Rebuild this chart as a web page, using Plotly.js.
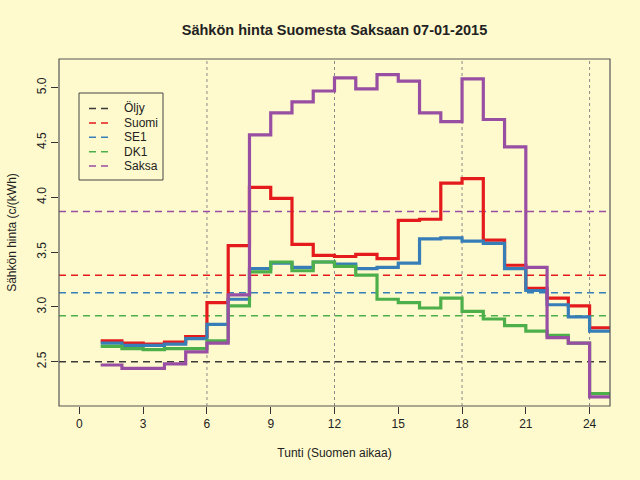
<!DOCTYPE html>
<html>
<head>
<meta charset="utf-8">
<script src="https://cdn.plot.ly/plotly-3.0.1.min.js"></script>
<style>
  body { margin: 0; background: #fffacd; }
  #chart { width: 640px; height: 480px; }
</style>
</head>
<body>
<div id="chart"></div>
<script>
// tunnit 1..24
const hours = [1, 2, 3, 4, 5, 6, 7, 8, 9, 10, 11, 12, 13, 14, 15, 16, 17, 18, 19, 20, 21, 22, 23, 24];

// tuntihinnat c/kWh
const suomi = [2.69, 2.67, 2.66, 2.68, 2.73, 3.04, 3.56, 4.09, 3.99, 3.57, 3.47, 3.46,
               3.48, 3.44, 3.79, 3.80, 4.13, 4.17, 3.61, 3.38, 3.17, 3.08, 3.01, 2.81];
const se1 = [2.67, 2.65, 2.65, 2.66, 2.71, 2.84, 3.07, 3.35, 3.40, 3.36, 3.41, 3.39,
             3.35, 3.36, 3.40, 3.62, 3.63, 3.60, 3.58, 3.35, 3.15, 3.02, 2.91, 2.78];
const dk1 = [2.64, 2.62, 2.61, 2.62, 2.62, 2.69, 3.01, 3.32, 3.41, 3.33, 3.41, 3.37,
             3.29, 3.07, 3.04, 2.99, 3.08, 2.96, 2.89, 2.83, 2.78, 2.74, 2.67, 2.21];
const saksa = [2.47, 2.44, 2.44, 2.48, 2.59, 2.67, 3.11, 4.57, 4.77, 4.87, 4.97, 5.09,
               4.99, 5.12, 5.06, 4.77, 4.69, 5.08, 4.71, 4.46, 3.36, 2.72, 2.67, 2.18];

// keskiarvot (katkoviivat)
const avgNames = ['Öljy', 'Suomi', 'SE1', 'DK1', 'Saksa'];
const avgValues = [2.50, 3.29, 3.13, 2.92, 3.87];
const colors = ['#3a3a3a', '#e41a1c', '#377eb8', '#4daf4a', '#984ea3'];

const gridHours = [6, 12, 18, 24];
const xTicks = [0, 3, 6, 9, 12, 15, 18, 21, 24];
const yTicks = [2.5, 3.0, 3.5, 4.0, 4.5, 5.0];
const xRange = [-0.96, 24.96];
const yRange = [2.096, 5.262];

const bg = '#fffacd';
const font = 'Liberation Sans, Arial, sans-serif';
const dashStyle = '7px,5px';

// piirtoalue pikseleinä (marginaalit)
const M = { l: 59, r: 30, t: 59, b: 74 };
const plotW = 640 - M.l - M.r, plotH = 480 - M.t - M.b;
const px = v => (v - M.l) / plotW;
const py = v => (480 - M.b - v) / plotH;

// porrasviiva jatkuu viimeisen tunnin loppuun
function step(vals, color) {
  return {
    x: hours.concat([hours[hours.length - 1] + 1]),
    y: vals.concat([vals[vals.length - 1]]),
    type: 'scatter',
    mode: 'lines',
    line: { shape: 'hv', color: color, width: 3.2 },
    showlegend: false,
    hoverinfo: 'skip'
  };
}

const avgTraces = avgNames.map((name, i) => ({
  x: xRange,
  y: [avgValues[i], avgValues[i]],
  type: 'scatter',
  mode: 'lines',
  name: name,
  line: { color: colors[i], width: 1.5, dash: dashStyle },
  showlegend: false,
  hoverinfo: 'skip'
}));

const data = avgTraces.concat([
  step(suomi, colors[1]),
  step(se1, colors[2]),
  step(dk1, colors[3]),
  step(saksa, colors[4])
]);

const shapes = gridHours.map(h => ({
  type: 'line', xref: 'x', yref: 'paper', x0: h, x1: h, y0: 0, y1: 1,
  line: { color: '#8a8a8a', width: 1, dash: 'dot' }, layer: 'below'
}));
shapes.push({
  type: 'rect', xref: 'paper', yref: 'paper', x0: 0, x1: 1, y0: 0, y1: 1,
  line: { color: '#555555', width: 1.2 }
});

// selite käsin, R:n tyyliin tiivis
const legBox = { x0: 79, x1: 163, y0: 93, y1: 180 };
const rowY0 = 108.5, rowStep = 14.4;
shapes.push({
  type: 'rect', xref: 'paper', yref: 'paper',
  x0: px(legBox.x0), x1: px(legBox.x1), y0: py(legBox.y0), y1: py(legBox.y1),
  line: { color: '#444444', width: 1 }
});
const annotations = [];
avgNames.forEach((name, i) => {
  const yy = py(rowY0 + i * rowStep);
  shapes.push({
    type: 'line', xref: 'paper', yref: 'paper',
    x0: px(89), x1: px(110), y0: yy, y1: yy,
    line: { color: colors[i], width: 1.5, dash: dashStyle }
  });
  annotations.push({
    xref: 'paper', yref: 'paper', x: px(122), y: yy,
    xanchor: 'left', yanchor: 'middle', showarrow: false,
    text: name, font: { size: 12, color: '#222222' }
  });
});

const layout = {
  width: 640,
  height: 480,
  paper_bgcolor: bg,
  plot_bgcolor: bg,
  font: { family: font, size: 12, color: '#222222' },
  margin: M,
  title: {
    text: '<b>Sähkön hinta Suomesta Saksaan 07-01-2015</b>',
    font: { family: font, size: 14.5, color: '#222222' },
    x: 0.5, xref: 'paper', y: 0.9375, yref: 'container', yanchor: 'middle'
  },
  xaxis: {
    range: xRange,
    tickvals: xTicks,
    ticks: 'outside', ticklen: 7, tickcolor: '#333333',
    showgrid: false, zeroline: false, showline: false,
    tickfont: { size: 12 },
    title: { text: 'Tunti (Suomen aikaa)', font: { size: 12 }, standoff: 18 }
  },
  yaxis: {
    range: yRange,
    tickvals: yTicks,
    ticktext: yTicks.map(v => v.toFixed(1)),
    tickangle: -90,
    ticks: 'outside', ticklen: 7, tickcolor: '#333333',
    showgrid: false, zeroline: false, showline: false,
    tickfont: { size: 12 },
    title: { text: 'Sähkön hinta (c/(kWh)', font: { size: 12 }, standoff: 16 }
  },
  shapes: shapes,
  annotations: annotations,
  showlegend: false
};

Plotly.newPlot('chart', data, layout, { staticPlot: true });
</script>
</body>
</html>
